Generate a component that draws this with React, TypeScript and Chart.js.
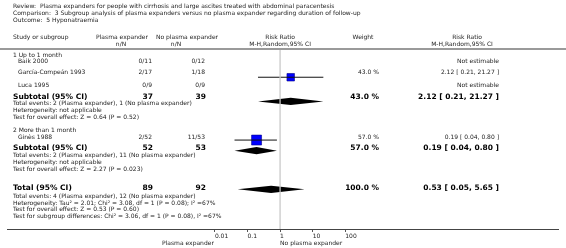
import React, { useEffect, useRef } from "react";
import { Chart, registerables } from "chart.js";

Chart.register(...registerables);

// ---------------- data ----------------
const REVIEW_LINES = [
  "Review:  Plasma expanders for people with cirrhosis and large ascites treated with abdominal paracentesis",
  "Comparison:  3 Subgroup analysis of plasma expanders versus no plasma expander regarding duration of follow-up",
  "Outcome:  5 Hyponatraemia",
];
const SUBGROUP_NAMES = ["1 Up to 1 month", "2 More than 1 month"];
const STUDY_NAMES = ["Baik 2000", "García-Compeán 1993", "Luca 1995", "Ginès 1988"];
const EXP_EVENTS = [0, 2, 0, 2];
const EXP_TOTAL = [11, 17, 9, 52];
const CTRL_EVENTS = [0, 1, 0, 11];
const CTRL_TOTAL = [12, 18, 9, 53];
const STUDY_RR: (number | null)[] = [null, 2.12, null, 0.19];
const STUDY_LOW: (number | null)[] = [null, 0.21, null, 0.04];
const STUDY_HIGH: (number | null)[] = [null, 21.27, null, 0.8];
const STUDY_WEIGHT: (number | null)[] = [null, 43.0, null, 57.0];

const SUB_EXP_N = [37, 52];
const SUB_CTRL_N = [39, 53];
const SUB_EXP_EVENTS = [2, 2];
const SUB_CTRL_EVENTS = [1, 11];
const SUB_RR = [2.12, 0.19];
const SUB_LOW = [0.21, 0.04];
const SUB_HIGH = [21.27, 0.8];
const SUB_WEIGHT = [43.0, 57.0];
const SUB_HETEROGENEITY = ["Heterogeneity: not applicable", "Heterogeneity: not applicable"];
const SUB_OVERALL = [
  "Test for overall effect: Z = 0.64 (P = 0.52)",
  "Test for overall effect: Z = 2.27 (P = 0.023)",
];

const TOTAL_EXP_N = 89;
const TOTAL_CTRL_N = 92;
const TOTAL_EXP_EVENTS = 4;
const TOTAL_CTRL_EVENTS = 12;
const TOTAL_RR = 0.53;
const TOTAL_LOW = 0.05;
const TOTAL_HIGH = 5.65;
const TOTAL_WEIGHT = 100.0;
const TOTAL_NOTES = [
  "Heterogeneity: Tau² = 2.01; Chi² = 3.08, df = 1 (P = 0.08); I² =67%",
  "Test for overall effect: Z = 0.53 (P = 0.60)",
  "Test for subgroup differences: Chi² = 3.06, df = 1 (P = 0.08), I² =67%",
];

const AXIS_TICKS = [0.01, 0.1, 1, 10, 100];
const AXIS_TICK_LABELS = ["0.01", "0.1", "1", "10", "100"];
const EXP_LABEL = "Plasma expander";
const CTRL_LABEL = "No plasma expander";

// ---------------- layout ----------------
const W = 566;
const H = 248;
const PLOT_BOTTOM = 229;
const NULL_PX = 280;
const PX_PER_DECADE = 33.5;
const X_MIN = Math.pow(10, -NULL_PX / PX_PER_DECADE);
const X_MAX = Math.pow(10, (W - NULL_PX) / PX_PER_DECADE);

const REVIEW_Y = [6, 13, 20];
const HEAD_Y1 = 37;
const HEAD_Y2 = 44;
const SEP_Y = 48;
const GROUP_Y = [55, 130];
const STUDY_Y = [61, 72, 85, 137];
const STUDY_GROUP = [0, 0, 0, 1];
const SUBTOTAL_Y = [97, 148];
const SUB_NOTES_Y = [
  [103, 110, 117],
  [155, 162, 169],
];
const TOTAL_Y = 188;
const TOTAL_NOTES_Y = [196, 203, 209, 216];
const AXIS_LABEL_Y = 243;

const LEFT_X = 13;
const STUDY_X = 18;
const EXP_RIGHT = 152;
const CTRL_RIGHT = 205;
const WEIGHT_RIGHT = 379;
const RR_RIGHT = 499;
const DIAMOND_HALF = 3.6;
const SQUARE_PER_WEIGHT = 0.175;

const FONT = "'DejaVu Sans', Verdana, sans-serif";
const REG = `6px ${FONT}`;
const BOLD = `bold 7.5px ${FONT}`;
const TXT = "#222";
const BTXT = "#000";

const f2 = (v: number) => v.toFixed(2);
const ci = (rr: number, lo: number, hi: number) => `${f2(rr)} [ ${f2(lo)}, ${f2(hi)} ]`;
const pct = (w: number) => `${w.toFixed(1)} %`;

// pooled estimates drawn as diamonds (values -> pixels through the chart's own scales)
const DIAMONDS = [
  ...SUB_RR.map((rr, gi) => ({ rr, lo: SUB_LOW[gi], hi: SUB_HIGH[gi], row: SUBTOTAL_Y[gi] })),
  { rr: TOTAL_RR, lo: TOTAL_LOW, hi: TOTAL_HIGH, row: TOTAL_Y },
];

const tablePlugin = {
  id: "forestTable",
  beforeDatasetsDraw(chart: any) {
    const ctx = chart.ctx;
    const xs = chart.scales.x;
    const ys = chart.scales.y;
    ctx.save();
    ctx.fillStyle = "#000";
    DIAMONDS.forEach((d) => {
      const yc = ys.getPixelForValue(d.row);
      const xl = xs.getPixelForValue(d.lo);
      const xc = xs.getPixelForValue(d.rr);
      const xr = xs.getPixelForValue(d.hi);
      ctx.beginPath();
      ctx.moveTo(xl, yc);
      ctx.lineTo(xc, yc - DIAMOND_HALF);
      ctx.lineTo(xr, yc);
      ctx.lineTo(xc, yc + DIAMOND_HALF);
      ctx.closePath();
      ctx.fill();
    });
    ctx.restore();
  },
  afterDatasetsDraw(chart: any) {
    const ctx = chart.ctx;
    const xs = chart.scales.x;
    const x1 = xs.getPixelForValue(1);
    ctx.save();
    ctx.strokeStyle = "rgba(200,200,200,0.85)";
    ctx.lineWidth = 1.5;
    ctx.beginPath();
    ctx.moveTo(x1, SEP_Y + 2);
    ctx.lineTo(x1, PLOT_BOTTOM);
    ctx.stroke();
    ctx.restore();
  },
  afterDraw(chart: any) {
    const ctx = chart.ctx;
    const xs = chart.scales.x;
    ctx.save();
    ctx.textBaseline = "middle";
    const text = (s: string, x: number, y: number, align: CanvasTextAlign, font = REG, color = TXT) => {
      ctx.font = font;
      ctx.fillStyle = color;
      ctx.textAlign = align;
      ctx.fillText(s, x, y);
    };

    REVIEW_LINES.forEach((s, i) => text(s, LEFT_X, REVIEW_Y[i], "left"));

    // column headers
    const xNull = xs.getPixelForValue(1);
    text("Study or subgroup", LEFT_X, HEAD_Y1, "left");
    text(EXP_LABEL, 122, HEAD_Y1, "center");
    text("n/N", 121, HEAD_Y2, "center");
    text(CTRL_LABEL, 187, HEAD_Y1, "center");
    text("n/N", 176, HEAD_Y2, "center");
    text("Risk Ratio", xNull, HEAD_Y1, "center");
    text("M-H,Random,95% CI", xNull, HEAD_Y2, "center");
    text("Weight", 363, HEAD_Y1, "center");
    text("Risk Ratio", 467, HEAD_Y1, "center");
    text("M-H,Random,95% CI", 462, HEAD_Y2, "center");

    ctx.fillStyle = "#9a9a9a";
    ctx.fillRect(0, SEP_Y, W, 2);

    // subgroups
    SUBGROUP_NAMES.forEach((g, gi) => {
      text(g, LEFT_X, GROUP_Y[gi], "left");
      STUDY_NAMES.forEach((s, i) => {
        if (STUDY_GROUP[i] !== gi) return;
        const y = STUDY_Y[i];
        text(s, STUDY_X, y, "left");
        text(`${EXP_EVENTS[i]}/${EXP_TOTAL[i]}`, EXP_RIGHT, y, "right");
        text(`${CTRL_EVENTS[i]}/${CTRL_TOTAL[i]}`, CTRL_RIGHT, y, "right");
        const rr = STUDY_RR[i];
        if (rr == null) {
          text("Not estimable", RR_RIGHT, y, "right");
        } else {
          text(pct(STUDY_WEIGHT[i] as number), WEIGHT_RIGHT, y, "right");
          text(ci(rr, STUDY_LOW[i] as number, STUDY_HIGH[i] as number), RR_RIGHT, y, "right");
        }
      });
      const sy = SUBTOTAL_Y[gi];
      text("Subtotal (95% CI)", LEFT_X, sy, "left", BOLD, BTXT);
      text(String(SUB_EXP_N[gi]), EXP_RIGHT + 1, sy, "right", BOLD, BTXT);
      text(String(SUB_CTRL_N[gi]), CTRL_RIGHT + 1, sy, "right", BOLD, BTXT);
      text(pct(SUB_WEIGHT[gi]), WEIGHT_RIGHT, sy, "right", BOLD, BTXT);
      text(ci(SUB_RR[gi], SUB_LOW[gi], SUB_HIGH[gi]), RR_RIGHT, sy, "right", BOLD, BTXT);
      const ny = SUB_NOTES_Y[gi];
      text(
        `Total events: ${SUB_EXP_EVENTS[gi]} (${EXP_LABEL}), ${SUB_CTRL_EVENTS[gi]} (${CTRL_LABEL})`,
        LEFT_X, ny[0], "left"
      );
      text(SUB_HETEROGENEITY[gi], LEFT_X, ny[1], "left");
      text(SUB_OVERALL[gi], LEFT_X, ny[2], "left");
    });

    // total
    text("Total (95% CI)", LEFT_X, TOTAL_Y, "left", BOLD, BTXT);
    text(String(TOTAL_EXP_N), EXP_RIGHT + 1, TOTAL_Y, "right", BOLD, BTXT);
    text(String(TOTAL_CTRL_N), CTRL_RIGHT + 1, TOTAL_Y, "right", BOLD, BTXT);
    text(pct(TOTAL_WEIGHT), WEIGHT_RIGHT, TOTAL_Y, "right", BOLD, BTXT);
    text(ci(TOTAL_RR, TOTAL_LOW, TOTAL_HIGH), RR_RIGHT, TOTAL_Y, "right", BOLD, BTXT);
    text(
      `Total events: ${TOTAL_EXP_EVENTS} (${EXP_LABEL}), ${TOTAL_CTRL_EVENTS} (${CTRL_LABEL})`,
      LEFT_X, TOTAL_NOTES_Y[0], "left"
    );
    TOTAL_NOTES.forEach((s, i) => text(s, LEFT_X, TOTAL_NOTES_Y[i + 1], "left"));

    // axis side labels
    text(EXP_LABEL, xs.getPixelForValue(AXIS_TICKS[0]) - 1, AXIS_LABEL_Y, "right");
    text(CTRL_LABEL, xNull, AXIS_LABEL_Y, "left");
    ctx.restore();
  },
};

export default function App() {
  const ref = useRef<HTMLCanvasElement | null>(null);
  useEffect(() => {
    document.body.style.margin = "0";
    const canvas = ref.current;
    if (!canvas) return;

    const datasets: any[] = [];
    // confidence interval lines
    STUDY_RR.forEach((rr, i) => {
      if (rr == null) return;
      datasets.push({
        data: [
          { x: STUDY_LOW[i], y: STUDY_Y[i] },
          { x: STUDY_HIGH[i], y: STUDY_Y[i] },
        ],
        showLine: true,
        pointRadius: 0,
        borderColor: "#111",
        borderWidth: 1,
        order: 0,
      });
    });
    // study squares
    const sqIdx = STUDY_RR.map((r, i) => (r == null ? -1 : i)).filter((i) => i >= 0);
    datasets.push({
      data: sqIdx.map((i) => ({ x: STUDY_RR[i], y: STUDY_Y[i] })),
      pointStyle: "rect",
      pointRadius: sqIdx.map((i) => ((STUDY_WEIGHT[i] as number) * SQUARE_PER_WEIGHT) / Math.SQRT2),
      backgroundColor: "#0000ff",
      borderColor: "#00008a",
      borderWidth: 0.6,
      showLine: false,
      order: 1,
    });

    const chart = new Chart(canvas, {
      type: "scatter",
      data: { datasets },
      options: {
        responsive: false,
        animation: false,
        layout: { padding: 0 },
        plugins: {
          legend: { display: false },
          tooltip: { enabled: false },
          title: { display: false },
        },
        scales: {
          x: {
            type: "logarithmic",
            position: "bottom",
            min: X_MIN,
            max: X_MAX,
            bounds: "data",
            afterBuildTicks: (s: any) => {
              s.ticks = AXIS_TICKS.map((v) => ({ value: v }));
            },
            afterFit: (s: any) => {
              s.height = H - PLOT_BOTTOM;
            },
            ticks: {
              autoSkip: false,
              maxRotation: 0,
              align: "start",
              padding: 1,
              color: TXT,
              font: { family: FONT, size: 6 },
              callback: (_v: any, i: number) => AXIS_TICK_LABELS[i],
            },
            grid: {
              display: true,
              drawOnChartArea: false,
              drawTicks: true,
              tickLength: 3,
              color: "#555",
              lineWidth: 1,
            },
            border: { display: true, color: "#444", width: 1 },
          },
          y: {
            type: "linear",
            display: false,
            min: 0,
            max: PLOT_BOTTOM,
            reverse: true,
          },
        },
      } as any,
      plugins: [tablePlugin],
    });
    return () => chart.destroy();
  }, []);

  return (
    <div style={{ width: W, height: H, background: "#fff" }}>
      <canvas ref={ref} width={W} height={H} style={{ display: "block" }} />
    </div>
  );
}
